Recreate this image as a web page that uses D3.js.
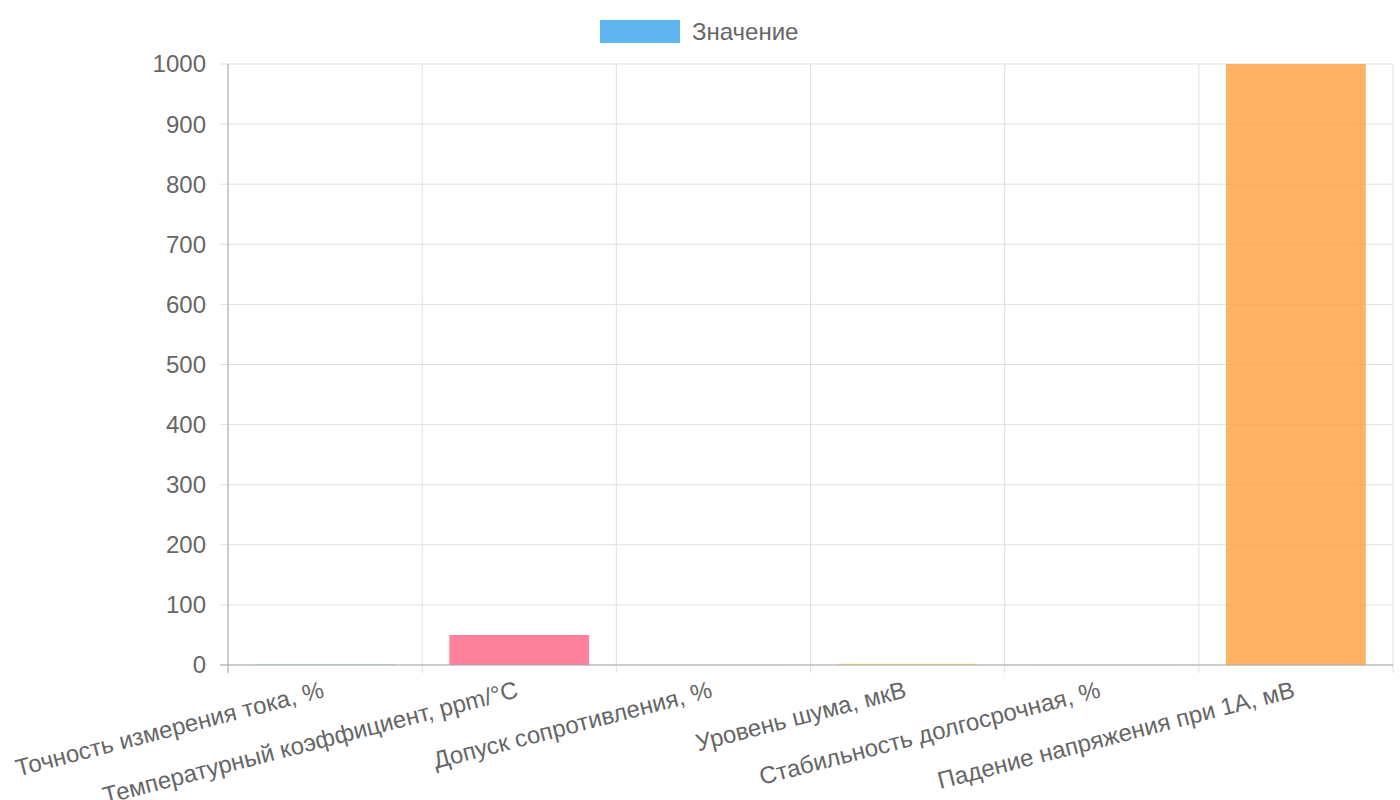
<!DOCTYPE html><html><head><meta charset="utf-8"><script src="https://cdn.jsdelivr.net/npm/d3@7"></script>
<style>body{margin:0;background:#fff}text{font-family:"Liberation Sans",Arial,sans-serif;fill:#666}</style></head><body>
<svg id="c" width="1400" height="800"></svg>
<script>
const categories=["Точность измерения тока, %","Температурный коэффициент, ppm/°C","Допуск сопротивления, %","Уровень шума, мкВ","Стабильность долгосрочная, %","Падение напряжения при 1А, мВ"];
const values=[0.5,50,0.1,2,0.1,1000];
const colors=["rgba(54,162,235,0.8)","rgba(255,99,132,0.8)","rgba(75,192,192,0.8)","rgba(255,205,86,0.8)","rgba(153,102,255,0.8)","rgba(255,159,64,0.8)"];
const yTicks=[0,100,200,300,400,500,600,700,800,900,1000];
const seriesName="Значение";
const svg=d3.select("#c");
const L=228,R=1393,T=64,B=665;
const x=d3.scaleBand().domain(categories).range([L,R]);
const y=d3.scaleLinear().domain([0,1000]).range([B,T]);
const g=svg.append("g");
categories.forEach((c,i)=>{g.append("line").attr("x1",x(c)).attr("x2",x(c)).attr("y1",T).attr("y2",B+8).attr("stroke","#e0e0e0");});
g.append("line").attr("x1",R).attr("x2",R).attr("y1",T).attr("y2",B+8).attr("stroke","#e0e0e0");
yTicks.forEach(t=>{g.append("line").attr("x1",L-8).attr("x2",R).attr("y1",y(t)).attr("y2",y(t)).attr("stroke","#e0e0e0");
 g.append("text").attr("x",L-22).attr("y",y(t)).attr("dy","0.35em").attr("text-anchor","end").attr("font-size",24).text(t);});
const bw=x.bandwidth()*0.72;
g.selectAll("rect.b").data(values).join("rect").attr("x",(d,i)=>x(categories[i])+(x.bandwidth()-bw)/2).attr("width",bw)
 .attr("y",d=>y(d)).attr("height",d=>B-y(d)).attr("fill",(d,i)=>colors[i]);
g.append("line").attr("x1",L).attr("x2",L).attr("y1",T).attr("y2",B+8).attr("stroke","#aaa");
g.append("line").attr("x1",L-8).attr("x2",R).attr("y1",B).attr("y2",B).attr("stroke","#aaa");
categories.forEach(c=>{const cx=x(c)+x.bandwidth()/2;
 g.append("text").attr("transform",`translate(${cx},${B+32}) rotate(-14.5)`).attr("text-anchor","end").attr("font-size",24).text(c);});
svg.append("rect").attr("x",600).attr("y",20).attr("width",80).attr("height",23).attr("fill","rgba(54,162,235,0.8)");
svg.append("text").attr("x",692).attr("y",32).attr("dy","0.35em").attr("font-size",24).text(seriesName);
</script></body></html>
